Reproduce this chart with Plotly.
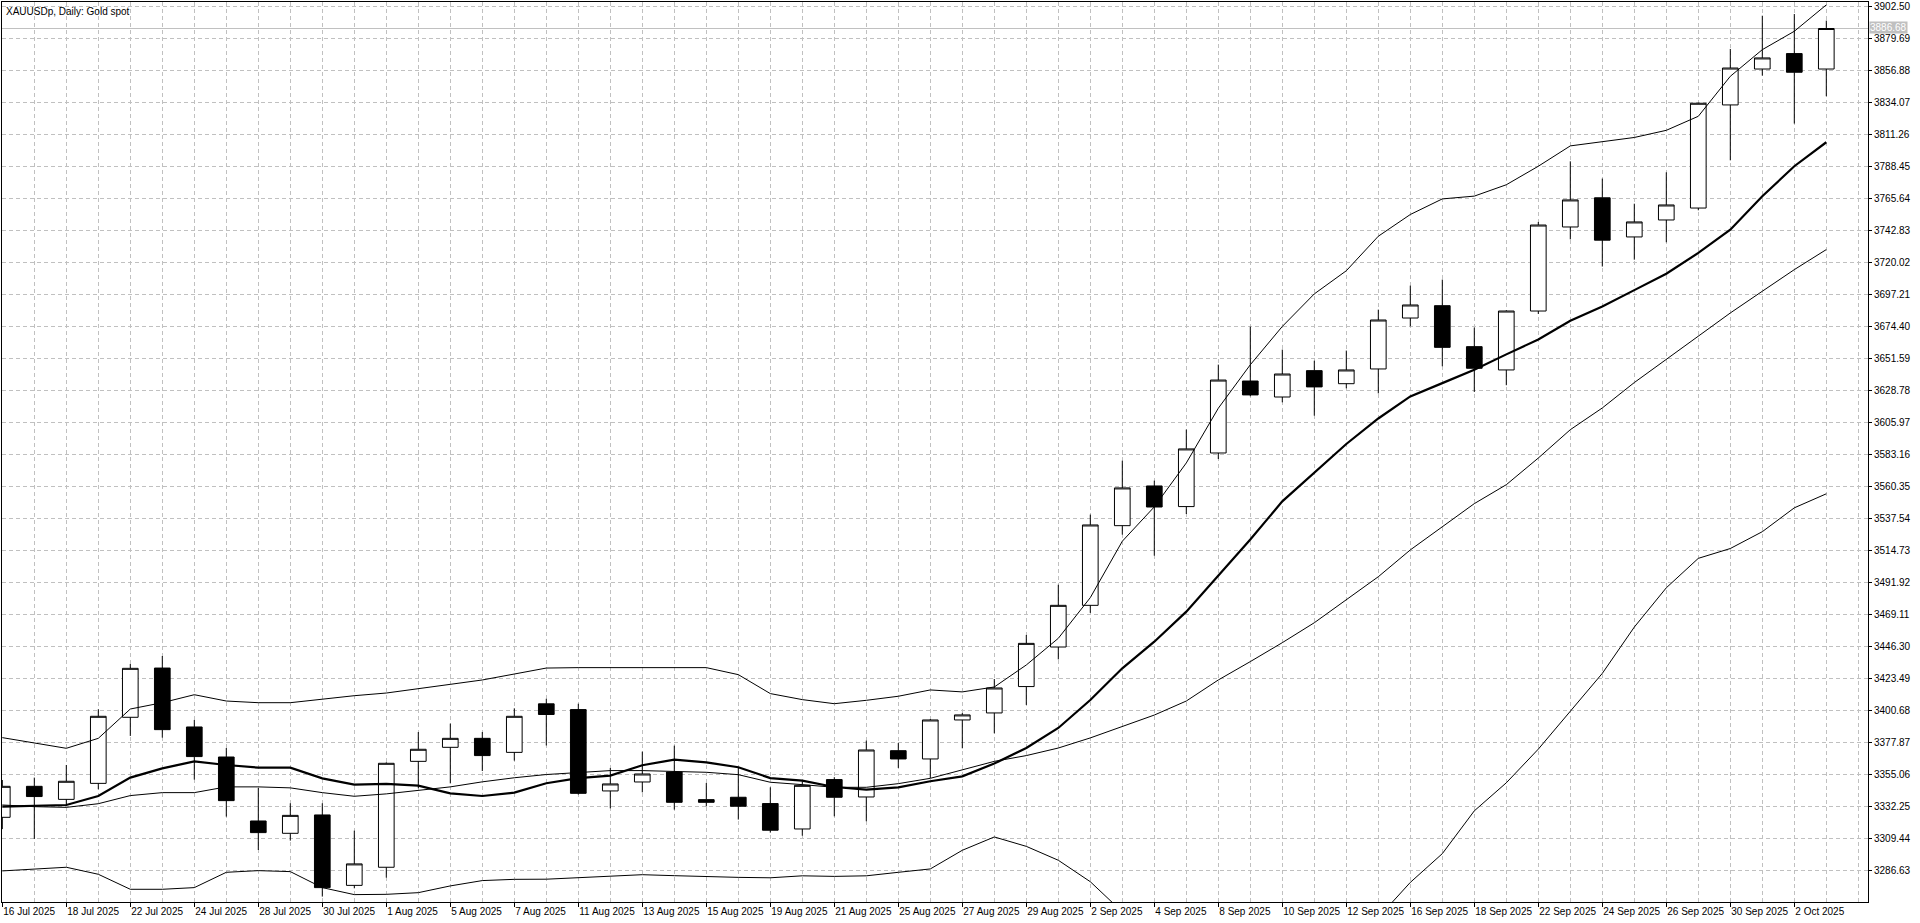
import plotly.graph_objects as go

# XAUUSDp daily candles, 16 Jul 2025 -> 3 Oct 2025 (one entry per trading day)
dates = [
    "16 Jul 2025", "17 Jul 2025", "18 Jul 2025", "21 Jul 2025", "22 Jul 2025", "23 Jul 2025",
    "24 Jul 2025", "25 Jul 2025", "28 Jul 2025", "29 Jul 2025", "30 Jul 2025", "31 Jul 2025",
    "1 Aug 2025", "4 Aug 2025", "5 Aug 2025", "6 Aug 2025", "7 Aug 2025", "8 Aug 2025",
    "11 Aug 2025", "12 Aug 2025", "13 Aug 2025", "14 Aug 2025", "15 Aug 2025", "18 Aug 2025",
    "19 Aug 2025", "20 Aug 2025", "21 Aug 2025", "22 Aug 2025", "25 Aug 2025", "26 Aug 2025",
    "27 Aug 2025", "28 Aug 2025", "29 Aug 2025", "1 Sep 2025", "2 Sep 2025", "3 Sep 2025",
    "4 Sep 2025", "5 Sep 2025", "8 Sep 2025", "9 Sep 2025", "10 Sep 2025", "11 Sep 2025",
    "12 Sep 2025", "15 Sep 2025", "16 Sep 2025", "17 Sep 2025", "18 Sep 2025", "19 Sep 2025",
    "22 Sep 2025", "23 Sep 2025", "24 Sep 2025", "25 Sep 2025", "26 Sep 2025", "29 Sep 2025",
    "30 Sep 2025", "1 Oct 2025", "2 Oct 2025", "3 Oct 2025",
]

opens = [
    3324.4, 3346.5, 3337.2, 3348.6, 3395.7, 3430.8, 3388.8, 3367.4, 3321.8, 3313.0,
    3326.1, 3275.9, 3288.8, 3364.3, 3374.3, 3380.7, 3370.7, 3405.3, 3401.2, 3343.2,
    3349.6, 3356.7, 3337.0, 3338.7, 3334.2, 3316.1, 3351.3, 3338.9, 3371.9, 3366.0,
    3393.8, 3398.8, 3417.6, 3445.8, 3475.5, 3532.3, 3560.6, 3545.9, 3584.1, 3635.4,
    3624.0, 3642.8, 3633.5, 3644.0, 3680.3, 3689.1, 3659.9, 3643.3, 3685.3, 3745.2,
    3766.0, 3738.1, 3750.2, 3758.7, 3832.2, 3857.8, 3868.8, 3857.8,
]
highs = [
    3351.0, 3352.7, 3361.7, 3401.4, 3433.7, 3439.4, 3393.8, 3373.8, 3345.3, 3334.4,
    3334.4, 3314.9, 3363.6, 3385.2, 3391.2, 3385.2, 3402.1, 3408.9, 3405.4, 3359.6,
    3371.2, 3375.5, 3348.9, 3359.8, 3345.8, 3350.1, 3353.0, 3379.1, 3377.4, 3394.5,
    3398.8, 3423.0, 3454.4, 3490.2, 3540.2, 3578.6, 3564.4, 3600.8, 3647.1, 3674.2,
    3657.8, 3649.9, 3657.1, 3686.3, 3703.4, 3707.7, 3673.5, 3685.8, 3748.8, 3792.0,
    3779.7, 3761.8, 3784.2, 3833.9, 3872.1, 3895.8, 3897.0, 3892.3,
]
lows = [
    3316.0, 3309.0, 3332.5, 3344.4, 3382.4, 3381.2, 3351.3, 3324.9, 3301.1, 3307.8,
    3267.9, 3273.8, 3281.4, 3345.1, 3348.6, 3357.4, 3364.8, 3375.6, 3340.6, 3330.8,
    3342.2, 3329.9, 3332.2, 3322.8, 3313.5, 3311.3, 3325.1, 3321.6, 3359.6, 3352.4,
    3373.6, 3384.3, 3404.5, 3437.0, 3470.1, 3525.9, 3510.9, 3540.6, 3579.8, 3624.5,
    3620.2, 3610.7, 3630.2, 3626.6, 3674.4, 3645.9, 3627.6, 3632.4, 3683.2, 3736.4,
    3717.0, 3721.9, 3734.3, 3757.1, 3792.7, 3853.1, 3818.9, 3838.4,
]
closes = [
    3346.5, 3339.2, 3350.1, 3396.4, 3430.6, 3386.9, 3367.7, 3336.3, 3313.5, 3325.8,
    3274.3, 3291.2, 3362.9, 3372.9, 3380.7, 3368.4, 3396.4, 3397.7, 3341.5, 3348.2,
    3355.3, 3335.1, 3335.1, 3332.3, 3315.2, 3347.2, 3338.7, 3372.4, 3366.0, 3393.8,
    3397.4, 3416.6, 3448.4, 3475.5, 3532.8, 3559.2, 3545.6, 3587.0, 3636.1, 3625.5,
    3640.4, 3631.2, 3643.3, 3678.9, 3689.6, 3659.4, 3644.5, 3685.3, 3746.6, 3764.5,
    3735.8, 3748.8, 3760.9, 3833.4, 3858.5, 3865.7, 3855.5, 3886.68,
]

# indicator lines
bb_upper = [
    3381.2, 3377.2, 3373.6, 3380.7, 3401.6, 3406.1, 3411.8, 3407.3, 3406.1, 3406.1,
    3408.8, 3411.1, 3413.0, 3415.9, 3419.2, 3422.3, 3426.3, 3430.8, 3431.1, 3431.1,
    3431.1, 3431.1, 3431.1, 3426.1, 3412.6, 3408.3, 3405.4, 3407.8, 3410.7, 3415.2,
    3413.8, 3417.3, 3433.0, 3452.0, 3481.0, 3521.2, 3545.7, 3577.0, 3616.0, 3647.0,
    3674.3, 3697.5, 3714.0, 3738.6, 3754.1, 3765.2, 3767.2, 3775.3, 3788.5, 3803.0,
    3806.0, 3809.0, 3814.1, 3824.1, 3852.6, 3871.6, 3884.7, 3903.5,
]
bb_middle = [
    3333.2, 3332.0, 3331.5, 3334.1, 3339.9, 3342.0, 3342.0, 3346.1, 3346.1, 3345.4,
    3342.0, 3339.4, 3341.1, 3343.5, 3346.1, 3349.7, 3352.6, 3354.9, 3356.5, 3357.7,
    3357.7, 3357.2, 3356.5, 3354.8, 3349.4, 3347.7, 3345.8, 3345.8, 3348.4, 3352.2,
    3358.4, 3364.3, 3368.4, 3373.8, 3381.0, 3389.0, 3397.3, 3407.3, 3422.3, 3435.4,
    3448.9, 3463.1, 3479.3, 3495.9, 3515.0, 3531.7, 3548.0, 3561.5, 3580.5, 3600.7,
    3616.2, 3634.3, 3650.7, 3667.3, 3683.9, 3699.4, 3714.8, 3729.1,
]
bb_lower = [
    3286.2, 3287.4, 3288.8, 3283.8, 3273.1, 3273.1, 3274.3, 3285.2, 3286.4, 3285.7,
    3274.3, 3269.3, 3269.5, 3270.7, 3275.5, 3279.3, 3280.2, 3280.3, 3281.5, 3282.3,
    3283.5, 3282.8, 3282.0, 3281.6, 3281.3, 3282.7, 3282.3, 3282.7, 3285.2, 3287.6,
    3300.9, 3310.4, 3303.7, 3293.8, 3278.5, 3257.0, 3249.0, 3237.6, 3229.6, 3222.5,
    3223.4, 3229.2, 3245.7, 3253.0, 3278.0, 3298.5, 3329.0, 3349.0, 3373.0, 3400.0,
    3427.0, 3460.0, 3488.0, 3509.0, 3516.0, 3528.0, 3545.0, 3555.0,
]
ma_fast = [
    3332.0, 3332.5, 3333.2, 3339.6, 3352.7, 3359.3, 3364.3, 3361.7, 3359.8, 3359.8,
    3352.2, 3347.7, 3348.2, 3347.0, 3341.5, 3339.6, 3342.0, 3348.7, 3352.4, 3354.1,
    3361.5, 3365.5, 3363.6, 3360.1, 3352.4, 3350.5, 3346.0, 3344.1, 3345.8, 3350.1,
    3353.6, 3362.7, 3373.8, 3388.1, 3408.0, 3430.6, 3449.6, 3471.0, 3497.1, 3522.5,
    3549.6, 3570.0, 3590.5, 3608.7, 3624.4, 3633.9, 3643.4, 3654.4, 3665.0, 3678.4,
    3688.5, 3700.2, 3711.9, 3726.7, 3743.3, 3767.1, 3788.5, 3805.6,
]

# price scale of the terminal
price_tick0 = 3286.63
price_step = 22.81
price_range = [3264.04, 3905.57]

FONT = "Tahoma, 'Liberation Sans', Arial, sans-serif"
GRID = "#c0c0c0"

x = list(range(len(dates)))

fig = go.Figure()

fig.add_trace(go.Candlestick(
    x=x, open=opens, high=highs, low=lows, close=closes,
    increasing=dict(line=dict(color="black", width=1), fillcolor="white"),
    decreasing=dict(line=dict(color="black", width=1), fillcolor="black"),
    whiskerwidth=0,
    hoverinfo="skip",
))

for series, w in [(bb_upper, 1), (bb_middle, 1), (bb_lower, 1), (ma_fast, 2.2)]:
    fig.add_trace(go.Scatter(
        x=x, y=series, mode="lines",
        line=dict(color="black", width=w),
        hoverinfo="skip",
    ))

# bid line + label
last_price = closes[-1]
fig.add_shape(type="line", xref="paper", x0=0, x1=1, yref="y", y0=last_price, y1=last_price,
              line=dict(color=GRID, width=1), layer="below")
fig.add_annotation(xref="paper", x=1, yref="y", y=last_price, xanchor="left", yanchor="middle",
                   xshift=1, yshift=1, text=f"{last_price:.2f}", showarrow=False,
                   bgcolor=GRID, borderpad=0, font=dict(family=FONT, size=10, color="white"))

fig.add_annotation(xref="paper", yref="paper", x=0, y=1, xanchor="left", yanchor="top",
                   xshift=2, yshift=-2, text="XAUUSDp, Daily: Gold spot", showarrow=False,
                   font=dict(family=FONT, size=10, color="black"))

fig.update_layout(
    width=1920, height=923,
    margin=dict(l=2, r=52, t=2, b=21),
    paper_bgcolor="white", plot_bgcolor="white",
    showlegend=False,
    boxgap=0.3,
    font=dict(family=FONT, size=10, color="black"),
    xaxis=dict(
        range=[-0.0094, 58.303],
        rangeslider=dict(visible=False),
        tickvals=x[::2], ticktext=dates[::2],
        tickangle=0,
        ticks="outside", ticklen=4, tickcolor="black",
        ticklabelposition="outside right",
        showline=True, linecolor="black", linewidth=1, mirror=True,
        showgrid=True, gridcolor=GRID, griddash="4px,3px", gridwidth=1,
        minor=dict(dtick=1, tick0=0, showgrid=True, gridcolor=GRID, griddash="4px,3px", ticks=""),
        zeroline=False,
    ),
    yaxis=dict(
        side="right",
        range=price_range,
        tick0=price_tick0, dtick=price_step, tickformat=".2f",
        ticks="outside", ticklen=3, tickcolor="black",
        showline=True, linecolor="black", linewidth=1, mirror=True,
        showgrid=True, gridcolor=GRID, griddash="4px,3px", gridwidth=1,
        zeroline=False,
    ),
)

fig.write_html("out.html", config={"displayModeBar": False},
               post_script="document.body.style.margin='0';")
